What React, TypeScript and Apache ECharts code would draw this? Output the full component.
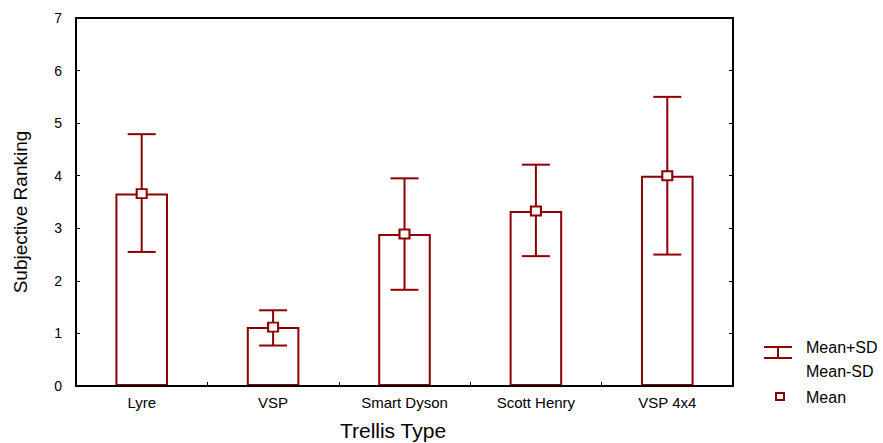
import React, { useEffect, useRef } from "react";
import * as echarts from "echarts";

const categories = ["Lyre", "VSP", "Smart Dyson", "Scott Henry", "VSP 4x4"];
const means = [3.66, 1.12, 2.89, 3.33, 4.0];
const upperSD = [4.79, 1.44, 3.95, 4.21, 5.5];
const lowerSD = [2.55, 0.77, 1.83, 2.47, 2.5];
const yTicks = [0, 1, 2, 3, 4, 5, 6, 7];
const yMax = 7;

const RED = "#8B0000";
const FONT = "Liberation Sans, Arial, sans-serif";

const GRID_LEFT = 76;
const GRID_RIGHT = 150;
const GRID_TOP = 18;
const GRID_BOTTOM = 57;

export default function App() {
  const ref = useRef<HTMLDivElement>(null);
  useEffect(() => {
    if (!ref.current) return;
    const chart = echarts.init(ref.current, null, { renderer: "svg" });
    const errData = categories.map((_, i) => [i, lowerSD[i], upperSD[i]]);
    const W = 883;
    const H = 443;
    chart.setOption({
      animation: false,
      textStyle: { fontFamily: FONT },
      grid: { left: GRID_LEFT, right: GRID_RIGHT, top: GRID_TOP, bottom: GRID_BOTTOM },
      xAxis: [
        {
          type: "category",
          data: categories,
          position: "bottom",
          axisLine: { onZero: false, lineStyle: { color: "#000", width: 2 } },
          axisTick: { show: true, inside: true, length: 4, lineStyle: { color: "#000" } },
          axisLabel: { color: "#000", fontSize: 15, margin: 9, fontFamily: FONT },
        },
      ],
      yAxis: [
        {
          type: "value",
          min: 0,
          max: yMax,
          interval: 1,
          axisLine: { show: true, onZero: false, lineStyle: { color: "#000", width: 2 } },
          axisTick: { show: true, inside: true, length: 4, lineStyle: { color: "#000" } },
          axisLabel: { color: "#000", fontSize: 14, margin: 14, fontFamily: FONT,
            formatter: (v: number) => (yTicks.includes(v) ? String(v) : "") },
          splitLine: { show: false },
        },
        {
          type: "value",
          min: 0,
          max: yMax,
          interval: 1,
          position: "right",
          axisLine: { show: true, onZero: false, lineStyle: { color: "#000", width: 2 } },
          axisTick: { show: true, inside: true, length: 4, lineStyle: { color: "#000" } },
          axisLabel: { show: false },
          splitLine: { show: false },
        },
      ],
      series: [
        {
          type: "bar",
          data: means,
          barWidth: "40%",
          itemStyle: { color: "#fff", borderColor: RED, borderWidth: 2 },
          z: 2,
        },
        {
          type: "custom",
          data: errData,
          z: 3,
          renderItem: (params: any, api: any) => {
            const x = api.value(0);
            const lo = api.coord([x, api.value(1)]);
            const hi = api.coord([x, api.value(2)]);
            const half = 14;
            const style = { stroke: RED, lineWidth: 2, fill: "none" };
            return {
              type: "group",
              children: [
                { type: "line", shape: { x1: hi[0], y1: hi[1], x2: lo[0], y2: lo[1] }, style },
                { type: "line", shape: { x1: hi[0] - half, y1: hi[1], x2: hi[0] + half, y2: hi[1] }, style },
                { type: "line", shape: { x1: lo[0] - half, y1: lo[1], x2: lo[0] + half, y2: lo[1] }, style },
              ],
            };
          },
        },
        {
          type: "scatter",
          data: means,
          symbol: "rect",
          symbolSize: [10, 9],
          itemStyle: { color: "#fff", borderColor: RED, borderWidth: 2, opacity: 1 },
          z: 4,
        },
      ],
      graphic: [
        {
          type: "rect", z: 100, silent: true,
          shape: { x: GRID_LEFT, y: GRID_TOP, width: W - GRID_LEFT - GRID_RIGHT, height: H - GRID_TOP - GRID_BOTTOM },
          style: { fill: "none", stroke: "#000", lineWidth: 2 },
        },
        { type: "text", x: 393, y: 430, style: { text: "Trellis Type", fontSize: 21, fontFamily: FONT, fill: "#000", align: "center", verticalAlign: "middle" } },
        { type: "text", x: 20, y: 212, rotation: Math.PI / 2, style: { text: "Subjective Ranking", fontSize: 19, fontFamily: FONT, fill: "#000", align: "center", verticalAlign: "middle" } },
        { type: "line", shape: { x1: 764, y1: 347, x2: 792, y2: 347 }, style: { stroke: RED, lineWidth: 2 } },
        { type: "line", shape: { x1: 764, y1: 358, x2: 792, y2: 358 }, style: { stroke: RED, lineWidth: 2 } },
        { type: "line", shape: { x1: 778, y1: 347, x2: 778, y2: 358 }, style: { stroke: RED, lineWidth: 2 } },
        { type: "rect", shape: { x: 776, y: 393, width: 8, height: 7 }, style: { fill: "#fff", stroke: RED, lineWidth: 2 } },
        { type: "text", x: 806, y: 347, style: { text: "Mean+SD", fontSize: 16, fontFamily: FONT, fill: "#000", verticalAlign: "middle" } },
        { type: "text", x: 806, y: 371, style: { text: "Mean-SD", fontSize: 16, fontFamily: FONT, fill: "#000", verticalAlign: "middle" } },
        { type: "text", x: 806, y: 397, style: { text: "Mean", fontSize: 16, fontFamily: FONT, fill: "#000", verticalAlign: "middle" } },
      ],
    });
    return () => chart.dispose();
  }, []);
  return <div ref={ref} style={{ width: 883, height: 443, position: "absolute", left: 0, top: 0 }} />;
}
